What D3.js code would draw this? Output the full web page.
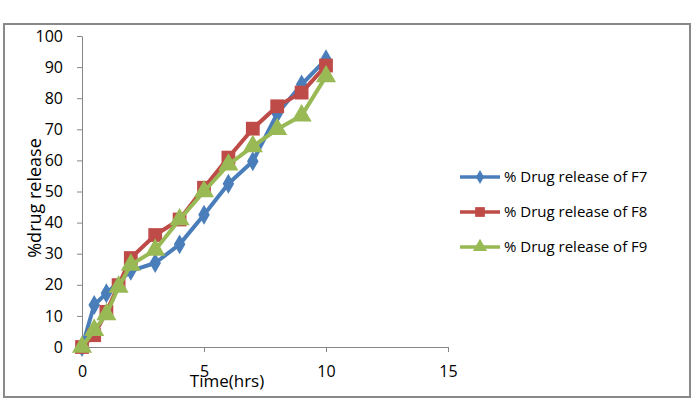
<!DOCTYPE html>
<html>
<head>
<meta charset="utf-8">
<script src="https://cdn.jsdelivr.net/npm/d3@7"></script>
<style>
  body { margin: 0; background: #fff; }
  text { font-family: "Open Sans", "Liberation Sans", sans-serif; fill: #000; }
</style>
</head>
<body>
<div id="chart"></div>
<script>
// hours sampled, F7 has no 1.5h reading
const timeF7 = [0, 0.5, 1, 2, 3, 4, 5, 6, 7, 8, 9, 10];
const timeF8F9 = [0, 0.5, 1, 1.5, 2, 3, 4, 5, 6, 7, 8, 9, 10];
const releaseF7 = [0, 13.5, 17.3, 24.5, 27, 33, 42.5, 52.5, 59.7, 75, 84.4, 92.5];
const releaseF8 = [0, 3.8, 11.3, 19.9, 28.6, 36, 41, 51.2, 60.9, 70.2, 77.4, 81.8, 90.5];
const releaseF9 = [0, 5.4, 10.5, 19.3, 26.4, 31.2, 41, 50, 58.6, 64.5, 70, 74.4, 87];
const seriesNames = ["% Drug release of F7", "% Drug release of F8", "% Drug release of F9"];
const xTicks = [0, 5, 10, 15];
const yTicks = [0, 10, 20, 30, 40, 50, 60, 70, 80, 90, 100];

const width = 697, height = 408;
const margin = { top: 36, right: 247, bottom: 61, left: 82 };

const svg = d3.select("#chart")
  .append("svg")
  .attr("width", width)
  .attr("height", height);

// outer frame
svg.append("rect")
  .attr("x", 4).attr("y", 24)
  .attr("width", 686).attr("height", 373)
  .attr("fill", "none")
  .attr("stroke", "#898989")
  .attr("stroke-width", 2);

const x = d3.scaleLinear()
  .domain([0, 15])
  .range([margin.left, width - margin.right - 2]);

const y = d3.scaleLinear()
  .domain([0, 100])
  .range([height - margin.bottom, margin.top]);

const xAxis = svg.append("g")
  .attr("transform", `translate(0,${y(0)})`)
  .call(d3.axisBottom(x).tickValues(xTicks).tickSizeInner(5).tickSizeOuter(0).tickPadding(14));

const yAxis = svg.append("g")
  .attr("transform", `translate(${margin.left},0)`)
  .call(d3.axisLeft(y).tickValues(yTicks).tickSizeInner(5).tickSizeOuter(0).tickPadding(14));

[xAxis, yAxis].forEach(g => {
  g.select(".domain").attr("stroke", "#868686");
  g.selectAll(".tick line").attr("stroke", "#868686");
  g.selectAll(".tick text")
    .style("font-size", "16px")
    .style("font-family", "'Open Sans', sans-serif")
    .attr("fill", "#000");
});

svg.append("text")
  .attr("x", 227).attr("y", 387)
  .attr("text-anchor", "middle")
  .style("font-size", "17px")
  .text("Time(hrs)");

svg.append("text")
  .attr("transform", `translate(41,198) rotate(-90)`)
  .attr("text-anchor", "middle")
  .style("font-size", "18px")
  .text("%drug release");

const series = [
  { name: seriesNames[0], t: timeF7, v: releaseF7, color: "#4A7EBB", symbol: d3.symbolDiamond, size: 115 },
  { name: seriesNames[1], t: timeF8F9, v: releaseF8, color: "#BE4B48", symbol: d3.symbolSquare, size: 190 },
  { name: seriesNames[2], t: timeF8F9, v: releaseF9, color: "#98B954", symbol: d3.symbolTriangle, size: 175 }
];

const line = d3.line()
  .x(d => x(d[0]))
  .y(d => y(d[1]));

series.forEach(s => {
  const pts = s.t.map((t, i) => [t, s.v[i]]);
  svg.append("path")
    .datum(pts)
    .attr("fill", "none")
    .attr("stroke", s.color)
    .attr("stroke-width", 4)
    .attr("stroke-linejoin", "round")
    .attr("d", line);

  svg.selectAll(null)
    .data(pts)
    .enter().append("path")
    .attr("transform", d => `translate(${x(d[0])},${y(d[1])})`)
    .attr("d", d3.symbol().type(s.symbol).size(s.size))
    .attr("fill", s.color);
});

// legend
const legend = svg.append("g");
series.forEach((s, i) => {
  const ly = 177 + i * 35;
  legend.append("line")
    .attr("x1", 460).attr("x2", 500)
    .attr("y1", ly).attr("y2", ly)
    .attr("stroke", s.color)
    .attr("stroke-width", 3.5);
  legend.append("path")
    .attr("transform", `translate(480,${ly})`)
    .attr("d", d3.symbol().type(s.symbol).size(s.size * 0.5))
    .attr("fill", s.color);
  legend.append("text")
    .attr("x", 504).attr("y", ly)
    .attr("dy", "0.35em")
    .style("font-size", "15px")
    .text(s.name);
});
</script>
</body>
</html>
